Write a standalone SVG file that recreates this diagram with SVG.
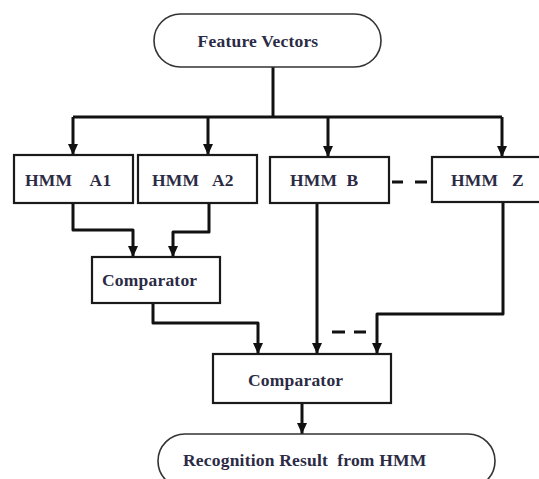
<svg xmlns="http://www.w3.org/2000/svg" width="539" height="479" viewBox="0 0 539 479">
  <style>
    .box { fill: #ffffff; stroke: #1a1a1a; stroke-width: 2.2; }
    .term { fill: #ffffff; stroke: #333333; stroke-width: 1.6; }
    .label { font-family: "Liberation Serif", "Times New Roman", serif; font-weight: bold; font-size: 17.5px; letter-spacing: 0.2px; fill: #2b2b45; }
    .wire { fill: none; stroke: #111111; stroke-width: 3; stroke-linejoin: round; }
    .dash { fill: none; stroke: #111111; stroke-width: 3; }
  </style>
  <defs>
    <marker id="arrow" markerUnits="userSpaceOnUse" markerWidth="12" markerHeight="10" refX="11" refY="5" orient="auto">
      <path d="M0,0 L11,5 L0,10 Z" fill="#111111"/>
    </marker>
  </defs>

  <rect width="539" height="479" fill="#ffffff"/>

  <!-- connectors -->
  <g id="connectors">
    <path class="wire" d="M273,67 V117"/>
    <path class="wire" d="M73,117 H502"/>
    <path class="wire" d="M73,117 V155" marker-end="url(#arrow)"/>
    <path class="wire" d="M208,117 V155" marker-end="url(#arrow)"/>
    <path class="wire" d="M328,117 V157" marker-end="url(#arrow)"/>
    <path class="wire" d="M502,117 V157" marker-end="url(#arrow)"/>

    <path class="wire" d="M73,203 V230 H133 V257" marker-end="url(#arrow)"/>
    <path class="wire" d="M209,203 V232 H173 V257" marker-end="url(#arrow)"/>

    <path class="wire" d="M153,303 V323 H258 V354" marker-end="url(#arrow)"/>
    <path class="wire" d="M317,203 V354" marker-end="url(#arrow)"/>
    <path class="wire" d="M503,202 V314 H377 V354" marker-end="url(#arrow)"/>

    <path class="wire" d="M302,403 V434" marker-end="url(#arrow)"/>

    <path class="dash" d="M392,182 H403 M415,182 H427"/>
    <path class="dash" d="M332,332 H345 M354,332 H366"/>
  </g>

  <g id="feature-vectors">
    <rect class="term" x="154" y="14" width="227" height="53" rx="26.5"/>
    <text class="label" x="258" y="47" text-anchor="middle">Feature Vectors</text>
  </g>

  <g id="hmm-a1">
    <rect class="box" x="14" y="155" width="119" height="48"/>
    <text class="label" x="25" y="186" xml:space="preserve">HMM    A1</text>
  </g>

  <g id="hmm-a2">
    <rect class="box" x="138" y="155" width="119" height="48"/>
    <text class="label" x="152" y="186" xml:space="preserve">HMM   A2</text>
  </g>

  <g id="hmm-b">
    <rect class="box" x="270" y="157" width="119" height="46"/>
    <text class="label" x="290" y="186" xml:space="preserve">HMM  B</text>
  </g>

  <g id="hmm-z">
    <rect class="box" x="432" y="157" width="120" height="45"/>
    <text class="label" x="451" y="186" xml:space="preserve">HMM   Z</text>
  </g>

  <g id="comparator-1">
    <rect class="box" x="92" y="257" width="128" height="46"/>
    <text class="label" x="102" y="286">Comparator</text>
  </g>

  <g id="comparator-2">
    <rect class="box" x="213" y="354" width="178" height="49"/>
    <text class="label" x="248" y="386">Comparator</text>
  </g>

  <g id="recognition-result">
    <rect class="term" x="158" y="434" width="337" height="54" rx="27"/>
    <text class="label" x="183" y="466" xml:space="preserve">Recognition Result  from HMM</text>
  </g>
</svg>
